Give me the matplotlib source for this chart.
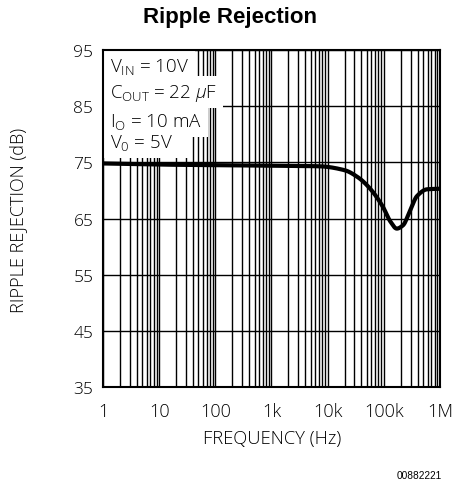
import matplotlib
matplotlib.use("Agg")
import matplotlib.pyplot as plt
import numpy as np
from matplotlib.patches import Rectangle

freq_hz = [1, 10, 100, 1e3, 7e3, 2e4, 3.5e4, 5.6e4, 9.6e4, 1.3e5, 1.7e5, 2.2e5, 2.9e5, 3.9e5, 5.9e5, 1e6]
rejection_db = [74.8, 74.6, 74.5, 74.4, 74.3, 73.6, 72.3, 70.4, 67.1, 64.5, 63.2, 63.8, 66.3, 69.0, 70.2, 70.3]

x_ticks = [1, 10, 100, 1e3, 1e4, 1e5, 1e6]
x_tick_labels = ["1", "10", "100", "1k", "10k", "100k", "1M"]
y_ticks = [35, 45, 55, 65, 75, 85, 95]
conditions = [r"V$_{\mathrm{IN}}$ = 10V", r"C$_{\mathrm{OUT}}$ = 22 $\mu$F",
              r"I$_{\mathrm{O}}$ = 10 mA", r"V$_{\mathrm{0}}$ = 5V"]

sans = "Open Sans"
wt = "light"
plt.rcParams["mathtext.fontset"] = "custom"
plt.rcParams["mathtext.rm"] = "Open Sans:light"
plt.rcParams["mathtext.it"] = "Open Sans:italic:light"


def pchip(x, y, xn):
    x = np.asarray(x, float); y = np.asarray(y, float)
    h = np.diff(x); d = np.diff(y) / h
    m = np.zeros_like(y)
    for k in range(1, len(x) - 1):
        if d[k - 1] * d[k] > 0:
            w1 = 2 * h[k] + h[k - 1]; w2 = h[k] + 2 * h[k - 1]
            m[k] = (w1 + w2) / (w1 / d[k - 1] + w2 / d[k])
    m[0] = d[0]; m[-1] = d[-1]
    idx = np.clip(np.searchsorted(x, xn) - 1, 0, len(x) - 2)
    t = (xn - x[idx]) / h[idx]
    h00 = 2 * t**3 - 3 * t**2 + 1; h10 = t**3 - 2 * t**2 + t
    h01 = -2 * t**3 + 3 * t**2; h11 = t**3 - t**2
    return h00 * y[idx] + h10 * h[idx] * m[idx] + h01 * y[idx + 1] + h11 * h[idx] * m[idx + 1]


W, H = 456, 489
fig = plt.figure(figsize=(W / 100, H / 100), dpi=100)
ax = fig.add_axes([103 / W, 1 - 388 / H, (440 - 103) / W, (388 - 51) / H])

ax.set_xscale("log")
ax.set_xlim(1, 1e6)
ax.set_ylim(35, 95)

for f in [m * 10 ** d for d in range(6) for m in range(1, 10)]:
    ax.axvline(f, color="black", lw=1.0, zorder=1)
for yv in y_ticks:
    ax.axhline(yv, color="black", lw=1.0, zorder=1)

lx = np.log10(freq_hz)
xs = np.linspace(0, 6, 800)
ys = pchip(lx, rejection_db, xs)
ax.plot(10 ** xs, ys, color="black", lw=3.0, zorder=4, solid_capstyle="round")

ax.set_xticks(x_ticks)
ax.set_xticklabels(x_tick_labels, fontfamily=sans, fontweight=wt, fontsize=13)
ax.minorticks_off()
ax.set_yticks(y_ticks)
ax.set_yticklabels([str(v) for v in y_ticks], fontfamily=sans, fontweight=wt, fontsize=12.5)
ax.tick_params(axis="y", length=0, pad=7)
ax.tick_params(axis="x", length=0, pad=11)
for s in ax.spines.values():
    s.set_linewidth(1.5)
    s.set_zorder(6)

# white background of the conditions block
ax.add_patch(Rectangle((0, 0.68), 0.26, 0.32, transform=ax.transAxes,
                       facecolor="white", edgecolor="none", zorder=3))
ys_txt = [0.938, 0.861, 0.774, 0.712]
for t, yy in zip(conditions, ys_txt):
    ax.text(0.022, yy, t, transform=ax.transAxes, fontfamily=sans, fontweight=wt,
            fontsize=13.5, va="baseline", ha="left", zorder=4.5, color="white",
            bbox=dict(facecolor="white", edgecolor="none", pad=4))
for t, yy in zip(conditions, ys_txt):
    ax.text(0.022, yy, t, transform=ax.transAxes, fontfamily=sans, fontweight=wt,
            fontsize=13.5, va="baseline", ha="left", zorder=5, color="black")

fig.text(230 / W, 1 - 18 / H, "Ripple Rejection", fontfamily="Liberation Sans",
         fontweight="bold", fontsize=16, ha="center", va="center")
fig.text(18 / W, 1 - 220 / H, "RIPPLE REJECTION (dB)", fontfamily=sans, fontweight=wt,
         fontsize=13, rotation=90, ha="center", va="center")
fig.text(272 / W, 1 - 439 / H, "FREQUENCY (Hz)", fontfamily=sans, fontweight=wt,
         fontsize=13.2, ha="center", va="center")
fig.text(442 / W, 1 - 476 / H, "00882221", fontfamily="Liberation Sans", fontsize=7.3,
         ha="right", va="center")

fig.savefig("out.png", dpi=100)
